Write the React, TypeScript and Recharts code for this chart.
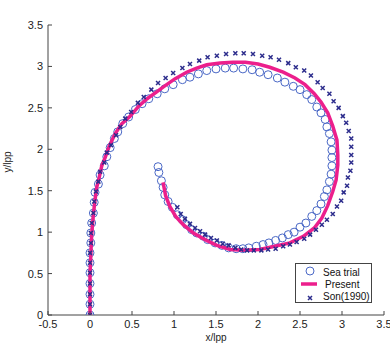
import React from "react";
import {
  ScatterChart,
  Scatter,
  XAxis,
  YAxis,
  Legend,
} from "recharts";

// tick values
const xTicks = [-0.5, 0, 0.5, 1, 1.5, 2, 2.5, 3, 3.5];
const yTicks = [0, 0.5, 1, 1.5, 2, 2.5, 3, 3.5];

// Sea trial (open circles)
const seaTrial: [number, number][] = [
  [0, 0], [0, 0.13], [0, 0.25], [0, 0.38], [0, 0.51], [0, 0.63], [0, 0.75],
  [0.01, 0.87], [0.01, 0.99], [0.02, 1.11], [0.04, 1.23], [0.05, 1.36],
  [0.06, 1.48], [0.1, 1.58], [0.12, 1.69], [0.17, 1.8], [0.2, 1.91],
  [0.24, 2.02], [0.29, 2.13], [0.33, 2.21], [0.39, 2.31], [0.46, 2.39],
  [0.54, 2.48], [0.62, 2.55], [0.7, 2.61], [0.8, 2.67], [0.89, 2.73],
  [0.99, 2.78], [1.1, 2.84], [1.19, 2.87], [1.29, 2.91], [1.39, 2.95],
  [1.5, 2.97], [1.61, 2.98], [1.71, 2.98], [1.82, 2.97], [1.93, 2.96],
  [2.02, 2.93], [2.12, 2.9], [2.23, 2.86], [2.32, 2.81], [2.42, 2.76],
  [2.5, 2.72], [2.58, 2.66], [2.64, 2.6], [2.7, 2.51], [2.75, 2.44],
  [2.8, 2.36], [2.82, 2.27], [2.85, 2.19], [2.87, 2.09], [2.88, 1.99],
  [2.88, 1.9], [2.88, 1.8], [2.87, 1.7], [2.85, 1.61], [2.82, 1.51],
  [2.79, 1.43], [2.75, 1.34], [2.7, 1.26], [2.64, 1.19], [2.57, 1.11],
  [2.5, 1.06], [2.43, 1.0], [2.36, 0.97], [2.29, 0.93], [2.21, 0.9],
  [2.13, 0.87], [2.06, 0.85], [1.98, 0.83], [1.89, 0.81], [1.82, 0.8],
  [1.74, 0.8], [1.65, 0.81], [1.57, 0.84], [1.49, 0.87], [1.4, 0.91],
  [1.35, 0.95], [1.27, 0.99], [1.21, 1.03], [1.15, 1.09], [1.1, 1.15],
  [1.04, 1.21], [0.98, 1.3], [0.93, 1.37], [0.89, 1.45], [0.87, 1.54],
  [0.85, 1.62], [0.82, 1.72], [0.81, 1.79],
];

// Present (magenta line)
const present: [number, number][] = [
  [0, 0], [0, 0.25], [0, 0.49], [0.01, 0.73], [0.02, 0.97], [0.04, 1.21],
  [0.06, 1.39], [0.08, 1.54], [0.11, 1.66], [0.14, 1.8], [0.18, 1.9],
  [0.23, 2.04], [0.3, 2.19], [0.38, 2.31], [0.48, 2.4], [0.58, 2.52],
  [0.68, 2.61], [0.79, 2.69], [0.87, 2.75], [1.01, 2.85], [1.15, 2.93],
  [1.27, 2.98], [1.39, 3.02], [1.55, 3.04], [1.7, 3.05], [1.85, 3.05],
  [2.0, 3.03], [2.14, 2.99], [2.3, 2.93], [2.44, 2.86], [2.56, 2.78],
  [2.67, 2.67], [2.75, 2.57], [2.83, 2.44], [2.89, 2.28], [2.94, 2.11],
  [2.95, 1.93], [2.95, 1.81], [2.93, 1.63], [2.89, 1.49], [2.83, 1.32],
  [2.76, 1.17], [2.67, 1.05], [2.54, 0.95], [2.38, 0.87], [2.2, 0.83],
  [2.02, 0.79], [1.85, 0.78], [1.67, 0.79], [1.51, 0.84], [1.37, 0.91],
  [1.23, 0.99], [1.11, 1.09], [1.02, 1.19], [0.95, 1.31], [0.9, 1.44],
  [0.87, 1.6],
];

// Son(1990) (small crosses)
const son1990: [number, number][] = [
  [0, 0], [0, 0.13], [0, 0.25], [0, 0.38], [0, 0.51], [0, 0.63], [0, 0.75],
  [0.01, 0.87], [0.01, 0.99], [0.02, 1.11], [0.04, 1.23], [0.05, 1.37],
  [0.07, 1.49], [0.1, 1.61], [0.12, 1.73], [0.17, 1.84], [0.2, 1.96],
  [0.25, 2.05], [0.31, 2.17], [0.36, 2.27], [0.42, 2.37], [0.49, 2.45],
  [0.57, 2.56], [0.64, 2.63], [0.73, 2.72], [0.81, 2.8], [0.9, 2.86],
  [0.99, 2.92], [1.1, 2.98], [1.19, 3.03], [1.3, 3.07], [1.4, 3.11],
  [1.51, 3.13], [1.62, 3.15], [1.73, 3.16], [1.83, 3.16], [1.94, 3.15],
  [2.05, 3.13], [2.15, 3.11], [2.25, 3.08], [2.36, 3.04], [2.45, 2.99],
  [2.55, 2.95], [2.63, 2.89], [2.71, 2.81], [2.77, 2.74], [2.85, 2.67],
  [2.9, 2.58], [2.96, 2.5], [3.01, 2.4], [3.05, 2.32], [3.08, 2.22],
  [3.11, 2.13], [3.11, 2.03], [3.11, 1.93], [3.11, 1.84], [3.1, 1.74],
  [3.07, 1.66], [3.06, 1.56], [3.02, 1.48], [2.99, 1.38], [2.94, 1.31],
  [2.89, 1.22], [2.82, 1.15], [2.76, 1.09], [2.69, 1.03], [2.62, 0.97],
  [2.55, 0.92], [2.46, 0.88], [2.38, 0.85], [2.3, 0.83], [2.21, 0.8],
  [2.12, 0.79], [2.04, 0.78], [1.95, 0.78], [1.87, 0.78], [1.8, 0.79],
  [1.73, 0.81], [1.65, 0.84], [1.58, 0.86], [1.51, 0.9], [1.44, 0.93],
  [1.37, 0.97], [1.31, 1.01], [1.25, 1.05], [1.19, 1.1], [1.13, 1.16],
  [1.08, 1.22], [1.04, 1.3],
];

const toPts = (arr: [number, number][]) => arr.map(([x, y]) => ({ x, y }));

const AXIS = "#444";
const FONT = "'Liberation Sans', Arial, Helvetica, sans-serif";
const CIRCLE = "#4a68c6";
const MAGENTA = "#ec1f8c";
const NAVY = "#2c2c8c";
const TM = 4; // tick margin

const BottomTick = ({ x, y, payload }: any) => (
  <g>
    <line x1={x} x2={x} y1={y - TM} y2={y - TM - 4} stroke={AXIS} />
    <text x={x} y={y} dy={9} textAnchor="middle" fontSize={11} fontFamily={FONT} fill="#222">
      {String(payload.value)}
    </text>
  </g>
);

const LeftTick = ({ x, y, payload }: any) => (
  <g>
    <line x1={x + TM} x2={x + TM + 4} y1={y} y2={y} stroke={AXIS} />
    <text x={x - 1} y={y} dy={4} textAnchor="end" fontSize={11} fontFamily={FONT} fill="#222">
      {String(payload.value)}
    </text>
  </g>
);

const TopTick = ({ x, y }: any) => (
  <line x1={x} x2={x} y1={y} y2={y + 4} stroke={AXIS} />
);

const RightTick = ({ x, y }: any) => (
  <line x1={x} x2={x - 4} y1={y} y2={y} stroke={AXIS} />
);

const circleShape = (p: any) => (
  <circle cx={p.cx} cy={p.cy} r={4} fill="none" stroke={CIRCLE} strokeWidth={1} />
);

const crossShape = (p: any) => (
  <path
    d={`M${p.cx - 2},${p.cy - 2}L${p.cx + 2},${p.cy + 2}M${p.cx - 2},${p.cy + 2}L${p.cx + 2},${p.cy - 2}`}
    stroke={NAVY}
    strokeWidth={1.5}
  />
);

const noShape = () => <g />;

const LegendBox = () => (
  <div style={{ width: 77, height: 40, border: `1px solid ${AXIS}`, background: "#fff", boxSizing: "border-box" }}>
    <svg width={75} height={38} style={{ display: "block" }}>
      <circle cx={14} cy={7} r={4} fill="none" stroke={CIRCLE} />
      <text x={27} y={12} fontSize={10} fontFamily={FONT} fill="#111">Sea trial</text>
      <line x1={5} x2={21} y1={20} y2={20} stroke={MAGENTA} strokeWidth={3.5} />
      <text x={29} y={24} fontSize={10} fontFamily={FONT} fill="#111">Present</text>
      <path d="M12,32L16,36M12,36L16,32" stroke={NAVY} strokeWidth={1.5} />
      <text x={27} y={36} fontSize={10} fontFamily={FONT} fill="#111">Son(1990)</text>
    </svg>
  </div>
);

export default function App() {
  return (
    <div style={{ position: "absolute", left: 0, top: 0, background: "#fff" }}>
      <ScatterChart width={390} height={346} margin={{ top: 25, right: 6, bottom: 0, left: 0 }}>
        <XAxis
          type="number"
          dataKey="x"
          domain={[-0.5, 3.5]}
          ticks={xTicks}
          interval={0}
          allowDataOverflow
          height={31}
          tickSize={0}
          tickMargin={TM}
          tick={<BottomTick />}
          axisLine={{ stroke: AXIS }}
          label={{ value: "x/lpp", position: "insideBottom", offset: 5, fontSize: 10, fontFamily: FONT, fill: "#222" }}
        />
        <XAxis
          xAxisId="top"
          orientation="top"
          type="number"
          domain={[-0.5, 3.5]}
          ticks={xTicks}
          interval={0}
          allowDataOverflow
          height={0}
          tickSize={0}
          tickMargin={0}
          tick={<TopTick />}
          axisLine={{ stroke: AXIS }}
          label={{ value: "trajectory", position: "top", offset: 9, fontSize: 10, fontFamily: FONT, fill: "#222" }}
        />
        <YAxis
          type="number"
          dataKey="y"
          domain={[0, 3.5]}
          ticks={yTicks}
          interval={0}
          allowDataOverflow
          width={48}
          tickSize={0}
          tickMargin={TM}
          tick={<LeftTick />}
          axisLine={{ stroke: AXIS }}
          label={{
            content: (props: any) => {
              const vb = props.viewBox;
              const cx = vb.x + 11;
              const cy = 162;
              return (
                <text
                  x={cx}
                  y={cy}
                  transform={`rotate(-90 ${cx} ${cy})`}
                  textAnchor="middle"
                  fontSize={10}
                  fontFamily={FONT}
                  fill="#222"
                >
                  y/lpp
                </text>
              );
            },
          }}
        />
        <YAxis
          yAxisId="right"
          orientation="right"
          type="number"
          domain={[0, 3.5]}
          ticks={yTicks}
          interval={0}
          allowDataOverflow
          width={0}
          tickSize={0}
          tickMargin={0}
          tick={<RightTick />}
          axisLine={{ stroke: AXIS }}
        />
        <Scatter name="Sea trial" data={toPts(seaTrial)} shape={circleShape} isAnimationActive={false} />
        <Scatter
          name="Present"
          data={toPts(present)}
          line={{ stroke: MAGENTA, strokeWidth: 3.5 }}
          shape={noShape}
          isAnimationActive={false}
        />
        <Scatter name="Son(1990)" data={toPts(son1990)} shape={crossShape} isAnimationActive={false} />
        <Legend
          layout="vertical"
          align="center"
          verticalAlign="middle"
          content={<LegendBox />}
          wrapperStyle={{ left: 295, top: 263, width: 77, height: 40 }}
        />
      </ScatterChart>
    </div>
  );
}
